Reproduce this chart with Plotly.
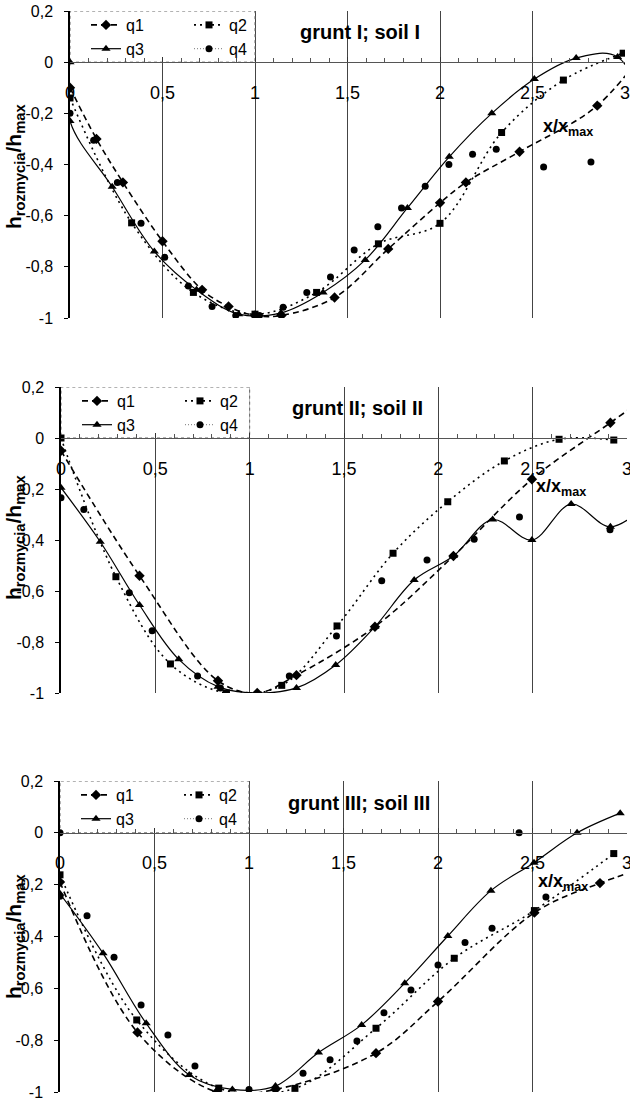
import plotly.graph_objects as go

# ---------------- data ----------------
series_names = ["q1", "q2", "q3", "q4"]

# panel 1: grunt I; soil I
p1_q1_x = [0, 0.143, 0.286, 0.50, 0.714, 0.857, 1.0, 1.143, 1.43, 1.72, 2.0, 2.14, 2.43, 2.85, 3.14]
p1_q1_y = [-0.10, -0.30, -0.47, -0.70, -0.89, -0.955, -0.99, -0.99, -0.92, -0.73, -0.55, -0.47, -0.35, -0.17, 0.08]
p1_q2_x = [0, 0.333, 0.667, 1.0, 1.333, 1.667, 2.0, 2.333, 2.667, 2.99]
p1_q2_y = [-0.14, -0.628, -0.90, -0.985, -0.90, -0.71, -0.63, -0.275, -0.07, 0.035]
p1_q3_x = [0, 0, 0.228, 0.456, 0.684, 0.912, 1.14, 1.368, 1.596, 1.824, 2.05, 2.28, 2.51, 2.736, 2.96, 3.19]
p1_q3_y = [0, -0.23, -0.487, -0.74, -0.89, -0.985, -0.98, -0.90, -0.773, -0.57, -0.37, -0.20, -0.066, 0.016, 0.02, -0.35]
p1_q4_x = [0, 0.128, 0.256, 0.384, 0.512, 0.64, 0.768, 0.896, 1.024, 1.152, 1.28, 1.408, 1.536, 1.664, 1.792, 1.92, 2.048, 2.176, 2.304, 2.56, 2.816]
p1_q4_y = [-0.20, -0.305, -0.47, -0.63, -0.763, -0.875, -0.955, -0.99, -0.99, -0.958, -0.90, -0.84, -0.734, -0.643, -0.57, -0.485, -0.40, -0.36, -0.34, -0.41, -0.39]

# panel 2: grunt II; soil II
p2_q1_x = [0, 0.416, 0.832, 1.04, 1.248, 1.664, 2.08, 2.496, 2.912, 3.33]
p2_q1_y = [-0.05, -0.54, -0.952, -1.0, -0.93, -0.74, -0.463, -0.162, 0.06, 0.28]
p2_q2_x = [0, 0.291, 0.58, 0.877, 1.17, 1.463, 1.76, 2.05, 2.35, 2.64, 2.93]
p2_q2_y = [0, -0.544, -0.886, -1.0, -0.97, -0.737, -0.452, -0.25, -0.09, -0.005, -0.008]
p2_q3_x = [0, 0.208, 0.416, 0.624, 0.832, 1.04, 1.248, 1.456, 1.664, 1.872, 2.08, 2.288, 2.496, 2.704, 2.912, 3.12]
p2_q3_y = [-0.195, -0.407, -0.655, -0.868, -0.975, -1.0, -0.98, -0.89, -0.74, -0.557, -0.463, -0.32, -0.40, -0.259, -0.348, -0.25]
p2_q4_x = [0, 0.121, 0.362, 0.483, 0.724, 0.845, 1.21, 1.46, 1.70, 1.94, 2.19, 2.43, 2.91]
p2_q4_y = [-0.234, -0.28, -0.607, -0.756, -0.933, -0.98, -0.933, -0.776, -0.56, -0.478, -0.397, -0.31, -0.36]

# panel 3: grunt III; soil III
p3_q1_x = [0, 0.41, 0.83, 1.14, 1.672, 2.0, 2.51, 2.857, 3.27]
p3_q1_y = [-0.19, -0.77, -1.0, -0.99, -0.85, -0.651, -0.308, -0.194, -0.095]
p3_q2_x = [0, 0.406, 0.84, 1.243, 1.672, 2.086, 2.51, 2.93]
p3_q2_y = [-0.162, -0.722, -0.985, -0.986, -0.754, -0.484, -0.30, -0.08]
p3_q3_x = [0, 0.228, 0.456, 0.684, 0.912, 1.14, 1.368, 1.596, 1.824, 2.052, 2.28, 2.508, 2.736, 2.964]
p3_q3_y = [-0.235, -0.465, -0.735, -0.934, -0.99, -0.977, -0.848, -0.741, -0.58, -0.398, -0.223, -0.115, 0.0, 0.076]
p3_q4_x = [0, 0, 0.143, 0.286, 0.429, 0.571, 0.714, 1.0, 1.286, 1.429, 1.571, 1.714, 1.857, 2.0, 2.143, 2.286, 2.429, 2.571]
p3_q4_y = [0, -0.245, -0.32, -0.48, -0.664, -0.78, -0.90, -0.99, -0.928, -0.876, -0.803, -0.694, -0.606, -0.51, -0.423, -0.368, 0.0, -0.248]

panel_titles = ["grunt I; soil I", "grunt II; soil II", "grunt III; soil III"]
x_tick_vals = [0, 0.5, 1, 1.5, 2, 2.5, 3]
x_tick_text = ["0", "0,5", "1", "1,5", "2", "2,5", "3"]
y_tick_vals = [-1, -0.8, -0.6, -0.4, -0.2, 0, 0.2]
y_tick_text = ["-1", "-0,8", "-0,6", "-0,4", "-0,2", "0", "0,2"]

panels = [
    [(p1_q1_x, p1_q1_y), (p1_q2_x, p1_q2_y), (p1_q3_x, p1_q3_y), (p1_q4_x, p1_q4_y)],
    [(p2_q1_x, p2_q1_y), (p2_q2_x, p2_q2_y), (p2_q3_x, p2_q3_y), (p2_q4_x, p2_q4_y)],
    [(p3_q1_x, p3_q1_y), (p3_q2_x, p3_q2_y), (p3_q3_x, p3_q3_y), (p3_q4_x, p3_q4_y)],
]

# ---------------- styling ----------------
W, H = 630, 1100
FONT = "Liberation Sans, Arial, sans-serif"


def fx(px):  # page pixel -> paper x
    return px / W


def fy(py):  # page pixel -> paper y
    return 1 - py / H


# page-pixel boxes of each plot area: (left, right, top, bottom)
boxes = [(70, 625, 11, 318), (61, 627, 387, 693), (60, 627, 781, 1092)]
styles = [
    dict(line=dict(color="black", width=1.6, dash="6px,4px"), marker=dict(symbol="diamond", size=8)),
    dict(line=dict(color="black", width=1.6, dash="2px,4px"), marker=dict(symbol="square", size=7)),
    dict(line=dict(color="black", width=1.2, dash="solid"), marker=dict(symbol="triangle-up", size=8)),
    dict(line=dict(color="#777777", width=1, dash="1px,2px"), marker=dict(symbol="circle", size=7)),
]
# q4 points are not joined by a visible line in the plot; its line only shows in the key
draw_line = [True, True, True, False]
groups = ["a", "b", "a", "b"]
xlabel_pos = [(2.69, -0.254), (2.65, -0.196), (2.66, -0.19)]
title_pos = [(1.57, 0.117), (1.57, 0.117), (1.58, 0.117)]
ytitle_px = [(15, 167), (15, 538), (15, 937)]

fig = go.Figure()
layout = dict(
    width=W, height=H, margin=dict(l=0, r=0, t=0, b=0, pad=0, autoexpand=False),
    paper_bgcolor="white", plot_bgcolor="white",
    font=dict(family=FONT, color="black"),
    separators=", ",
    showlegend=True,
)
annotations = []
shapes = []

for i, (box, data) in enumerate(zip(boxes, panels)):
    n = "" if i == 0 else str(i + 1)
    left, right, top, bottom = box
    xd = [fx(left), fx(right)]
    yd = [fy(bottom), fy(top)]
    zero_pos = yd[0] + (yd[1] - yd[0]) * (1.0 / 1.2)
    legname = "legend" + n
    for k, (xs, ys) in enumerate(data):
        st = styles[k]
        line = dict(color=st["line"]["color"], width=st["line"]["width"],
                    dash=st["line"]["dash"], shape="spline", smoothing=1.0)
        marker = dict(symbol=st["marker"]["symbol"], size=st["marker"]["size"], color="black")
        common = dict(xaxis="x" + n, yaxis="y" + n, legend=legname,
                      legendgroup=f"p{i}{groups[k]}", hoverinfo="skip")
        if draw_line[k]:
            fig.add_trace(go.Scatter(x=xs, y=ys, name=series_names[k], mode="lines+markers",
                                     line=line, marker=marker, **common))
        else:
            # key entry (line + marker) for the series
            fig.add_trace(go.Scatter(x=[None], y=[None], name=series_names[k], mode="lines+markers",
                                     line=line, marker=marker, **common))
            # the series' points
            fig.add_trace(go.Scatter(x=xs, y=ys, name=series_names[k], mode="markers",
                                     marker=marker, showlegend=False, **common))
    layout["xaxis" + n] = dict(
        domain=xd, range=[0, 3], anchor="free", position=zero_pos,
        tickvals=x_tick_vals, ticktext=x_tick_text,
        tickfont=dict(size=18, family=FONT), ticks="inside", ticklen=5, tickcolor="#333",
        ticklabelstandoff=14, ticklabeloverflow="allow",
        minor=dict(dtick=0.1, tick0=0, ticks="inside", ticklen=4, tickcolor="#555", showgrid=False),
        showgrid=True, gridcolor="#444", gridwidth=1,
        showline=True, linecolor="#555", linewidth=1, zeroline=False, fixedrange=True,
    )
    layout["yaxis" + n] = dict(
        domain=yd, range=[-1, 0.2], anchor="x" + n,
        tickvals=y_tick_vals, ticktext=y_tick_text,
        tickfont=dict(size=16, family=FONT), ticks="outside", ticklen=4, tickcolor="black",
        ticklabelstandoff=8, ticklabeloverflow="allow",
        showgrid=False, zeroline=False, showline=True, linecolor="black", linewidth=1.5,
        fixedrange=True,
    )
    layout[legname] = dict(
        x=fx(left + 16), xanchor="left", y=fy(top - 3), yanchor="top",
        orientation="h", traceorder="grouped", bgcolor="rgba(0,0,0,0)", borderwidth=0,
        font=dict(size=16, family=FONT), entrywidth=58, tracegroupgap=0,
    )
    shapes.append(dict(type="rect", xref="x" + n, yref="y" + n, x0=0, x1=1, y0=0, y1=0.2,
                       fillcolor="white", line=dict(color="#666", width=1, dash="dot"),
                       layer="between"))
    annotations.append(dict(xref="x" + n, yref="y" + n, x=title_pos[i][0], y=title_pos[i][1],
                            text="<b>" + panel_titles[i] + "</b>", showarrow=False,
                            xanchor="center", yanchor="middle",
                            font=dict(size=20, family=FONT)))
    annotations.append(dict(xref="x" + n, yref="y" + n, x=xlabel_pos[i][0], y=xlabel_pos[i][1],
                            text="<b>x/x<sub>max</sub></b>", showarrow=False,
                            xanchor="center", yanchor="middle",
                            font=dict(size=18, family=FONT)))

for (px, py) in ytitle_px:
    annotations.append(dict(xref="paper", yref="paper", x=fx(px), y=fy(py),
                            xanchor="center", yanchor="middle",
                            text="<b>h<sub>rozmycia</sub>/h<sub>max</sub></b>", textangle=-90,
                            showarrow=False, font=dict(size=21, family=FONT)))

layout["annotations"] = annotations
layout["shapes"] = shapes
fig.update_layout(**layout)
# the page's default 8px body margin is removed so the 630x1100 figure fills the window
fig.write_html("out.html", config={"displayModeBar": False},
               post_script="document.body.style.margin='0px';")
